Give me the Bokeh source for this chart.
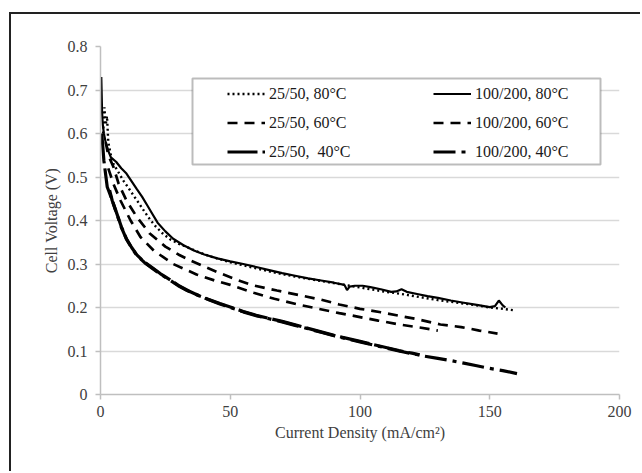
from bokeh.plotting import figure
from bokeh.models import Range1d, FixedTicker, Legend, LegendItem, BoxAnnotation
from bokeh.embed import file_html
from bokeh.resources import INLINE

# ---- data ----
x_100_80 = [0.3, 0.6, 0.9, 1.3, 2, 3, 4, 6, 8, 10, 12, 14, 16, 18, 20, 22, 25, 28, 32, 36, 40, 45, 50, 55, 60, 65, 70, 75, 80, 85, 90, 94, 95, 96, 98, 101, 104, 108, 112, 114, 116, 118, 122, 126, 130, 135, 140, 145, 150, 152, 153.5, 155, 156]
y_100_80 = [0.73, 0.65, 0.62, 0.60, 0.58, 0.56, 0.545, 0.535, 0.52, 0.508, 0.49, 0.472, 0.455, 0.435, 0.415, 0.395, 0.375, 0.358, 0.343, 0.331, 0.322, 0.313, 0.306, 0.300, 0.293, 0.286, 0.279, 0.273, 0.267, 0.262, 0.257, 0.252, 0.240, 0.248, 0.250, 0.250, 0.247, 0.242, 0.236, 0.237, 0.242, 0.236, 0.231, 0.226, 0.222, 0.216, 0.211, 0.206, 0.201, 0.203, 0.216, 0.205, 0.200]

x_25_80 = [1, 1.5, 2, 2.5, 3, 4, 5, 7, 9, 11, 13, 15, 17, 19, 21, 24, 27, 30, 34, 38, 42, 46, 50, 55, 60, 65, 70, 75, 80, 85, 90, 95, 100, 105, 110, 115, 120, 125, 130, 135, 140, 145, 150, 155, 159]
y_25_80 = [0.60, 0.66, 0.62, 0.64, 0.58, 0.55, 0.53, 0.51, 0.49, 0.473, 0.455, 0.438, 0.42, 0.403, 0.388, 0.37, 0.356, 0.347, 0.337, 0.327, 0.318, 0.311, 0.304, 0.297, 0.29, 0.283, 0.277, 0.271, 0.266, 0.261, 0.256, 0.251, 0.246, 0.241, 0.236, 0.232, 0.227, 0.222, 0.217, 0.213, 0.209, 0.205, 0.200, 0.197, 0.194]

x_100_60 = [2, 3, 5, 7, 10, 14, 19, 25, 30, 35, 40, 46, 52, 58, 68, 77, 85, 92, 100, 108, 116, 123, 131, 139, 146, 153]
y_100_60 = [0.58, 0.55, 0.523, 0.484, 0.446, 0.408, 0.370, 0.340, 0.322, 0.307, 0.294, 0.279, 0.265, 0.252, 0.239, 0.228, 0.218, 0.207, 0.197, 0.189, 0.180, 0.172, 0.161, 0.155, 0.147, 0.140]

x_25_60 = [3, 5, 7.7, 11.6, 15.4, 20.5, 28, 37, 44, 50, 59, 67, 76, 84, 92, 100, 107, 115, 123, 130]
y_25_60 = [0.52, 0.484, 0.446, 0.400, 0.362, 0.331, 0.300, 0.276, 0.262, 0.252, 0.234, 0.220, 0.207, 0.197, 0.187, 0.178, 0.170, 0.161, 0.154, 0.147]

x_25_40 = [0.5, 1.3, 2.6, 4.5, 6, 8, 10, 12, 14, 17, 20, 23, 27, 30, 34, 38, 42, 46, 50, 55, 60, 65, 70, 75, 80, 85, 90, 95, 100, 105, 110, 115, 120, 123]
y_25_40 = [0.60, 0.538, 0.477, 0.447, 0.421, 0.386, 0.358, 0.338, 0.321, 0.304, 0.291, 0.278, 0.263, 0.251, 0.238, 0.227, 0.218, 0.209, 0.201, 0.191, 0.182, 0.175, 0.168, 0.160, 0.152, 0.144, 0.136, 0.129, 0.122, 0.115, 0.108, 0.101, 0.095, 0.091]

x_100_40 = [3.5, 4.5, 6, 8, 10, 12, 14, 17, 20, 23, 27, 30, 33.4, 38, 42, 46, 50, 55, 60, 65, 70, 75, 80, 85, 90, 95, 100, 105, 110, 115, 120, 125, 130, 135, 140, 145, 150, 155, 160.5]
y_100_40 = [0.47, 0.446, 0.420, 0.385, 0.357, 0.337, 0.320, 0.303, 0.290, 0.277, 0.262, 0.250, 0.239, 0.227, 0.217, 0.208, 0.200, 0.190, 0.181, 0.174, 0.167, 0.159, 0.151, 0.143, 0.135, 0.128, 0.121, 0.114, 0.107, 0.100, 0.094, 0.088, 0.083, 0.078, 0.072, 0.066, 0.060, 0.055, 0.048]

x_ticks = [0, 50, 100, 150, 200]
y_ticks = [0, 0.1, 0.2, 0.3, 0.4, 0.5, 0.6, 0.7, 0.8]

series = [
    ("25/50, 80°C", x_25_80, y_25_80, "2 3", 2.4),
    ("25/50, 60°C", x_25_60, y_25_60, "10 7", 2.7),
    ("25/50,  40°C", x_25_40, y_25_40, "30 5", 3.2),
    ("100/200, 80°C", x_100_80, y_100_80, "solid", 2.2),
    ("100/200, 60°C", x_100_60, y_100_60, "10 7", 2.7),
    ("100/200, 40°C", x_100_40, y_100_40, "22 6 4 6", 3.2),
]

FONT = "Liberation Serif"
TXT = "#404040"

# the page shows the chart inside a dark frame (left and top edges)
p = figure(width=631, height=459, output_backend="svg", toolbar_location=None,
           x_range=Range1d(0, 200), y_range=Range1d(0, 0.8),
           min_border_left=89, min_border_right=23, min_border_top=32, min_border_bottom=79,
           styles={"margin-left": "9px", "margin-top": "12px",
                   "border-left": "2px solid #222222", "border-top": "2px solid #222222"})
p.outline_line_color = None
p.background_fill_color = "white"
p.border_fill_color = "white"

# axes
p.xaxis.ticker = FixedTicker(ticks=x_ticks)
p.yaxis.ticker = FixedTicker(ticks=y_ticks)
p.yaxis.major_label_overrides = {0: "0"}
for ax in (p.xaxis[0], p.yaxis[0]):
    ax.axis_line_color = "#bfbfbf"
    ax.axis_line_width = 1.5
    ax.major_tick_line_color = "#bfbfbf"
    ax.major_tick_line_width = 1.5
    ax.major_tick_in = 0
    ax.major_tick_out = 5
    ax.minor_tick_line_color = None
    ax.major_label_text_font = FONT
    ax.major_label_text_font_size = "16px"
    ax.major_label_text_color = TXT
    ax.axis_label_text_font = FONT
    ax.axis_label_text_font_size = "16px"
    ax.axis_label_text_font_style = "normal"
    ax.axis_label_text_color = TXT
p.xaxis.axis_label = "Current Density (mA/cm²)"
p.yaxis.axis_label = "Cell Voltage (V)"
p.xaxis.major_label_standoff = 6
p.yaxis.major_label_standoff = 8
p.xaxis.axis_label_standoff = 4
p.yaxis.axis_label_standoff = 5

p.xgrid.grid_line_color = None
p.ygrid.grid_line_color = "#d9d9d9"
p.ygrid.grid_line_width = 1.5

items = []
for name, xs, ys, dash, w in series:
    r = p.line(xs, ys, line_color="black", line_width=w, line_dash=dash)
    items.append(LegendItem(label=name, renderers=[r]))

# legend box
leg_box = BoxAnnotation(left=92, right=500, top=316, bottom=230,
                        left_units="screen", right_units="screen",
                        top_units="screen", bottom_units="screen",
                        fill_color="white", fill_alpha=1,
                        line_color="#222222", line_width=2)
p.add_layout(leg_box)

legend = Legend(items=items, ncols=2, location=(127, 233),
                orientation="vertical",
                label_text_font=FONT, label_text_font_size="16px",
                label_text_color="#1a1a1a",
                glyph_width=38, glyph_height=19, label_height=19,
                label_width=154, label_standoff=4, spacing=10,
                padding=0, margin=0,
                border_line_alpha=0, background_fill_alpha=0)
p.add_layout(legend, "center")

open("out.html", "w").write(file_html(p, INLINE))
